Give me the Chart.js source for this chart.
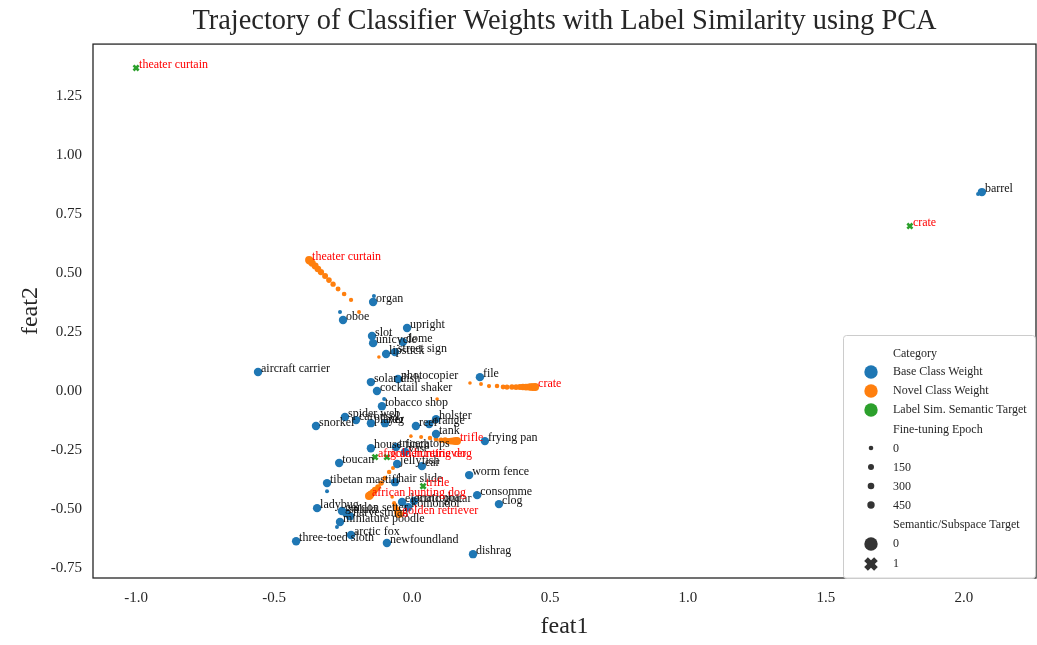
<!DOCTYPE html>
<html><head><meta charset="utf-8">
<script src="https://cdn.jsdelivr.net/npm/chart.js@4"></script>
<style>html,body{margin:0;padding:0;background:#fff}#wrap{width:1037px;height:645px}</style>
</head><body><div id="wrap"><canvas id="c" width="1037" height="645"></canvas></div>
<script>
// ---------- data ----------
const xTicks = [-1.0, -0.5, 0.0, 0.5, 1.0, 1.5, 2.0];
const yTicks = [-0.75, -0.5, -0.25, 0.0, 0.25, 0.5, 0.75, 1.0, 1.25];

const baseLabels = ['barrel','organ','oboe','upright','slot','unicycle','dome','lipstick','street sign','aircraft carrier',
  'solar dish','photocopier','cocktail shaker','file','tobacco shop','spider web','snorkel','carousel','player','rug',
  'reef','orange','holster','tank','frying pan','house finch','triceratops','vase','toucan','jellyfish',
  'ear','tibetan mastiff','hair slide','worm fence','consomme','clog','electric guitar','marimba','komondor','ladybug',
  'gordon setter','saluki','harvestman','miniature poodle','arctic fox','three-toed sloth','newfoundland','dishrag'];
const baseX = [2.065,-0.141,-0.250,-0.018,-0.145,-0.141,-0.033,-0.094,-0.062,-0.558,
  -0.149,-0.051,-0.127,0.246,-0.109,-0.243,-0.348,-0.203,-0.149,-0.098,
  0.014,0.062,0.087,0.087,0.264,-0.149,-0.058,-0.025,-0.264,-0.054,
  0.036,-0.308,-0.062,0.207,0.236,0.315,-0.036,0.007,-0.014,-0.344,
  -0.254,-0.239,-0.225,-0.261,-0.221,-0.420,-0.091,0.221];
const baseY = [0.843,0.377,0.301,0.267,0.233,0.203,0.208,0.157,0.165,0.081,
  0.038,0.051,0.000,0.059,-0.064,-0.110,-0.148,-0.123,-0.136,-0.136,
  -0.148,-0.140,-0.119,-0.182,-0.212,-0.242,-0.237,-0.258,-0.305,-0.309,
  -0.318,-0.390,-0.386,-0.356,-0.441,-0.479,-0.470,-0.466,-0.492,-0.496,
  -0.508,-0.517,-0.530,-0.555,-0.610,-0.636,-0.644,-0.691];
// epoch-0 positions of base weights that visibly moved
const baseStartX = [2.051,-0.138,-0.261,-0.101,-0.308,-0.272];
const baseStartY = [0.835,0.403,0.335,-0.034,-0.424,-0.576];

// novel class weight trajectories (epoch 0 -> final)
const novelLabels = ['theater curtain','crate','trifle','african hunting dog','golden retriever'];
const theaterX = [-0.120,-0.192,-0.221,-0.246,-0.268,-0.286,-0.301,-0.315,-0.330,-0.341,-0.351,-0.362,-0.370,-0.373];
const theaterY = [0.144,0.335,0.386,0.411,0.432,0.453,0.470,0.487,0.504,0.517,0.530,0.542,0.551,0.555];
const crateX = [0.210,0.250,0.279,0.308,0.330,0.344,0.362,0.377,0.391,0.402,0.413,0.424,0.431,0.438,0.446];
const crateY = [0.034,0.030,0.021,0.021,0.017,0.017,0.017,0.017,0.017,0.017,0.017,0.017,0.017,0.017,0.017];
const trifleX = [0.091,0.033,0.065,0.087,0.105,0.120,0.130,0.141,0.149,0.156,0.163];
const trifleY = [-0.034,-0.195,-0.199,-0.203,-0.208,-0.208,-0.212,-0.212,-0.212,-0.212,-0.212];
const huntingX = [-0.004,-0.069,-0.083,-0.098,-0.112,-0.123,-0.134,-0.141,-0.149,-0.152,-0.156];
const huntingY = [-0.191,-0.326,-0.343,-0.369,-0.390,-0.407,-0.419,-0.428,-0.436,-0.441,-0.445];
const goldenX = [-0.072,-0.065,-0.062,-0.058,-0.054,-0.051,-0.051,-0.047];
const goldenY = [-0.449,-0.475,-0.487,-0.496,-0.504,-0.513,-0.517,-0.521];

// label-similarity semantic targets
const targetLabels = ['theater curtain','crate','african hunting dog','golden retriever','trifle'];
const targetX = [-1.000,1.804,-0.134,-0.091,0.040];
const targetY = [1.369,0.699,-0.280,-0.280,-0.403];

// ---------- chart ----------
const SERIF = '"Liberation Serif", "DejaVu Serif", serif';
const BLUE = '#1f77b4', ORANGE = '#ff7f0e', GREEN = '#2ca02c';
const pts = (xs, ys) => xs.map((x, i) => ({x: x, y: ys[i]}));
const trajX = [theaterX, crateX, trifleX, huntingX, goldenX];
const trajY = [theaterY, crateY, trifleY, huntingY, goldenY];

const datasets = [];
datasets.push({label:'base start', data: pts(baseStartX, baseStartY), backgroundColor: BLUE, borderWidth:0, pointRadius:2});
datasets.push({label:'Base Class Weight', data: pts(baseX, baseY), backgroundColor: BLUE, borderWidth:0, pointRadius:4.2});
trajX.forEach((xs, k) => {
  const n = xs.length;
  datasets.push({label: novelLabels[k], data: pts(xs, trajY[k]), backgroundColor: ORANGE, borderWidth:0,
    pointRadius: xs.map((_, i) => 1.8 + 2.2 * i / (n - 1))});
});
datasets.push({label:'Label Sim. Semantic Target', data: pts(targetX, targetY), pointStyle:'crossRot',
  borderColor: GREEN, backgroundColor: GREEN, borderWidth: 2.6, pointRadius: 3.6});

const labelPlugin = {
  id: 'pointLabels',
  afterDatasetsDraw(chart) {
    const ctx = chart.ctx, xs = chart.scales.x, ys = chart.scales.y;
    ctx.save();
    ctx.font = '12px ' + SERIF;
    ctx.textAlign = 'left'; ctx.textBaseline = 'alphabetic';
    const put = (t, x, y, c) => { ctx.fillStyle = c; ctx.fillText(t, xs.getPixelForValue(x) + 3, ys.getPixelForValue(y)); };
    baseLabels.forEach((t, i) => put(t, baseX[i], baseY[i], '#111'));
    novelLabels.forEach((t, k) => { const n = trajX[k].length; put(t, trajX[k][n-1], trajY[k][n-1], 'red'); });
    targetLabels.forEach((t, i) => put(t, targetX[i], targetY[i], 'red'));
    ctx.restore();
  },
  afterDraw(chart) {
    const ctx = chart.ctx, a = chart.chartArea;
    ctx.save();
    // axes frame
    ctx.strokeStyle = '#262626'; ctx.lineWidth = 1.3;
    ctx.strokeRect(a.left, a.top, a.right - a.left, a.bottom - a.top);
    // legend
    const lx = 843, ly = 335, lw = 192, lh = 243;
    ctx.beginPath();
    ctx.roundRect(lx + 0.5, ly + 0.5, lw, lh, 3);
    ctx.fillStyle = 'rgba(255,255,255,0.85)'; ctx.fill();
    ctx.strokeStyle = '#cccccc'; ctx.lineWidth = 1; ctx.stroke();
    ctx.font = '12px ' + SERIF; ctx.textBaseline = 'middle'; ctx.textAlign = 'left';
    const tx = 893, mx = 871;
    const text = (t, y) => { ctx.fillStyle = '#262626'; ctx.fillText(t, tx, y); };
    const dot = (y, r, c) => { ctx.beginPath(); ctx.arc(mx, y, r, 0, Math.PI * 2); ctx.fillStyle = c; ctx.fill(); };
    text('Category', 354);
    dot(372, 6.7, BLUE); text('Base Class Weight', 372);
    dot(391, 6.7, ORANGE); text('Novel Class Weight', 391);
    dot(410, 6.7, GREEN); text('Label Sim. Semantic Target', 410);
    text('Fine-tuning Epoch', 430);
    dot(448, 2.3, '#333'); text('0', 449);
    dot(467, 3.0, '#333'); text('150', 468);
    dot(486, 3.3, '#333'); text('300', 487);
    dot(505, 3.7, '#333'); text('450', 506);
    text('Semantic/Subspace Target', 525);
    dot(544, 6.7, '#333'); text('0', 544);
    // filled X marker
    ctx.save(); ctx.translate(mx, 564); ctx.rotate(Math.PI / 4);
    ctx.fillStyle = '#333';
    ctx.fillRect(-7, -2.6, 14, 5.2); ctx.fillRect(-2.6, -7, 5.2, 14);
    ctx.restore();
    text('1', 564);
    ctx.restore();
  }
};

new Chart(document.getElementById('c'), {
  type: 'scatter',
  data: { datasets },
  options: {
    responsive: false, animation: false, devicePixelRatio: 1,
    layout: { autoPadding: false, padding: { left: 0, right: 1, top: 0, bottom: 0 } },
    plugins: {
      legend: { display: false },
      tooltip: { enabled: false },
      title: { display: true, fullSize: false, text: 'Trajectory of Classifier Weights with Label Similarity using PCA',
        color: '#262626', font: { family: SERIF, size: 28.4, weight: 'normal' }, padding: { top: 5, bottom: 5 } }
    },
    scales: {
      x: {
        type: 'linear', min: -1.156, max: 2.261,
        grid: { display: false, drawTicks: false }, border: { display: false },
        afterBuildTicks: s => { s.ticks = xTicks.map(v => ({ value: v })); },
        afterFit: s => { s.height = 67; s.paddingLeft = 0; s.paddingRight = 0; },
        ticks: { padding: 11, color: '#262626', font: { family: SERIF, size: 15 },
          callback: v => (v < 0 ? '-' : '') + Math.abs(v).toFixed(1) },
        title: { display: true, text: 'feat1', color: '#262626', font: { family: SERIF, size: 24 }, padding: { top: 0, bottom: 4 } }
      },
      y: {
        type: 'linear', min: -0.792, max: 1.470,
        grid: { display: false, drawTicks: false }, border: { display: false },
        afterBuildTicks: s => { s.ticks = yTicks.map(v => ({ value: v })); },
        afterFit: s => { s.width = 93; s.paddingTop = 0; s.paddingBottom = 0; },
        ticks: { padding: 11, color: '#262626', font: { family: SERIF, size: 15 },
          callback: v => (v < 0 ? '-' : '') + Math.abs(v).toFixed(2) },
        title: { display: true, text: 'feat2', color: '#262626', font: { family: SERIF, size: 24 }, padding: { top: 16, bottom: 0 } }
      }
    }
  },
  plugins: [labelPlugin]
});
</script>
</body></html>
